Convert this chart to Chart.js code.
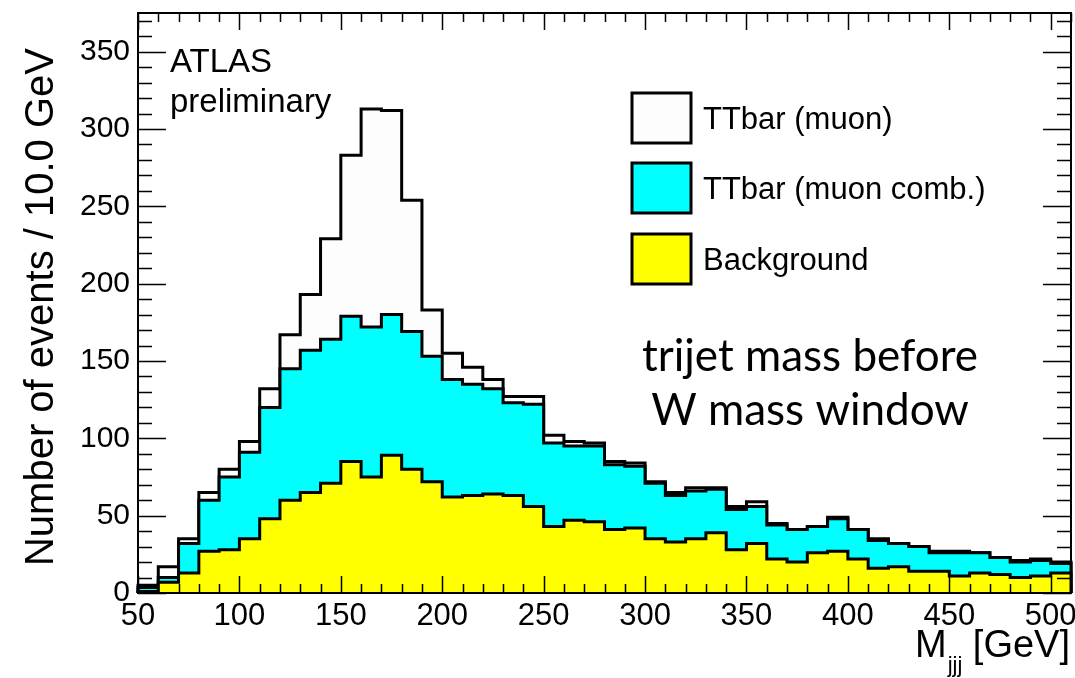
<!DOCTYPE html>
<html>
<head>
<meta charset="utf-8">
<script src="https://cdn.jsdelivr.net/npm/chart.js@4.4.0/dist/chart.umd.min.js"></script>
<style>
  html, body { margin: 0; padding: 0; background: #fff; }
  canvas { display: block; }
</style>
</head>
<body>
<canvas id="mjjjChart" width="1075" height="678"></canvas>
<script>
// lower edges of the 10 GeV bins
const binLow = [50, 60, 70, 80, 90, 100, 110, 120, 130, 140, 150, 160, 170, 180, 190,
  200, 210, 220, 230, 240, 250, 260, 270, 280, 290, 300, 310, 320, 330, 340,
  350, 360, 370, 380, 390, 400, 410, 420, 430, 440, 450, 460, 470, 480, 490, 500];
const binWidth = 10;

// events per bin
const ttbarMuon = [5, 17, 35, 65, 80, 98, 132, 167, 193, 229, 283, 313, 312, 254, 183,
  155, 146, 138, 127, 127, 102, 98, 97, 85, 84, 72, 65, 68, 68, 56,
  59, 45, 41, 43, 49, 41, 35, 32, 30, 27, 27, 26, 23, 21, 22, 20];
const ttbarMuonComb = [3.5, 10, 32, 60, 75, 91, 120, 145, 157, 164, 179, 172, 180, 169, 153,
  138, 135, 132, 123, 122, 97, 95, 95, 83, 82, 71, 63, 66, 67, 54,
  56, 44, 41, 43, 48, 41, 34, 32, 30, 26, 26, 26, 23, 20, 21, 19];
const background = [1, 7, 13, 27, 28, 35, 48, 60, 65, 71, 85, 75, 89, 80, 72,
  62, 63, 64, 63, 56, 43, 47, 46, 41, 42, 35, 33, 35, 39, 28,
  32, 22, 20, 26, 27, 22, 16, 17, 14, 14, 11, 13, 12, 10, 11, 13];

const seriesLabels = ['TTbar (muon)', 'TTbar (muon comb.)', 'Background'];
const xTickValues = [50, 100, 150, 200, 250, 300, 350, 400, 450, 500];
const yTickValues = [0, 50, 100, 150, 200, 250, 300, 350];

const helv = "'Liberation Sans', Arial, Helvetica, sans-serif";

// turn bin contents into a closed step outline
function histPoints(values) {
  const pts = [{ x: binLow[0], y: 0 }];
  values.forEach(function(v, i) {
    pts.push({ x: binLow[i], y: v });
    pts.push({ x: binLow[i] + binWidth, y: v });
  });
  pts.push({ x: binLow[binLow.length - 1] + binWidth, y: 0 });
  return pts;
}

function histDataset(label, values, color, order) {
  return {
    label: label,
    data: histPoints(values),
    backgroundColor: color,
    borderColor: '#000',
    borderWidth: 3,
    borderJoinStyle: 'miter',
    borderCapStyle: 'butt',
    fill: 'origin',
    tension: 0,
    pointRadius: 0,
    order: order,
    clip: 6
  };
}

// ticks inside the frame, frame, legend and labels
const decorations = {
  id: 'decorations',
  afterDraw: function(chart) {
    const ctx = chart.ctx;
    const a = chart.chartArea;
    const xs = chart.scales.x, ys = chart.scales.y;
    ctx.save();
    ctx.strokeStyle = '#000';
    ctx.lineWidth = 1.5;
    ctx.beginPath();
    for (let v = 50; v <= 510; v += 10) {
      const px = Math.round(xs.getPixelForValue(v)) + 0.5;
      const len = (v % 50 === 0) ? 17 : 9;
      ctx.moveTo(px, a.bottom); ctx.lineTo(px, a.bottom - len);
      ctx.moveTo(px, a.top); ctx.lineTo(px, a.top + len);
    }
    for (let v = 0; v <= 375; v += 10) {
      const py = Math.round(ys.getPixelForValue(v)) + 0.5;
      const len = (v % 50 === 0) ? 28 : 14;
      ctx.moveTo(a.left, py); ctx.lineTo(a.left + len, py);
      ctx.moveTo(a.right, py); ctx.lineTo(a.right - len, py);
    }
    ctx.stroke();

    ctx.lineWidth = 2;
    ctx.strokeRect(a.left, a.top, a.right - a.left, a.bottom - a.top);

    // legend
    const boxTops = [93, 163, 234];
    chart.data.datasets.forEach(function(ds, i) {
      ctx.fillStyle = ds.backgroundColor;
      ctx.fillRect(632, boxTops[i], 59, 50);
      ctx.lineWidth = 3;
      ctx.strokeRect(632, boxTops[i], 59, 50);
      ctx.fillStyle = '#000';
      ctx.font = '31px ' + helv;
      ctx.textAlign = 'left';
      ctx.textBaseline = 'alphabetic';
      ctx.fillText(seriesLabels[i], 703, boxTops[i] + 36);
    });

    ctx.fillStyle = '#000';
    ctx.font = '33px ' + helv;
    ctx.fillText('ATLAS', 170, 72);
    ctx.fillText('preliminary', 170, 112);

    ctx.font = '44px Lato, "Open Sans", sans-serif';
    ctx.textAlign = 'center';
    ctx.fillText('trijet mass before', 810, 371);
    ctx.fillText('W mass window', 810, 425);

    // x axis title with subscript
    ctx.textAlign = 'right';
    ctx.font = '38px ' + helv;
    const right = 1070;
    ctx.fillText('[GeV]', right, 657);
    const gevW = ctx.measureText('[GeV] ').width;
    ctx.font = '22px ' + helv;
    ctx.fillText('jjj', right - gevW, 672);
    const subW = ctx.measureText('jjj').width;
    ctx.font = '38px ' + helv;
    ctx.fillText('M', right - gevW - subW - 1, 657);

    // y axis title
    ctx.translate(53, 307);
    ctx.rotate(-Math.PI / 2);
    ctx.textAlign = 'center';
    ctx.font = '40px ' + helv;
    ctx.fillText('Number of events / 10.0 GeV', 0, 0);
    ctx.restore();
  }
};

function noEdgePadding(scale) {
  scale.paddingTop = 0;
  scale.paddingBottom = 0;
  scale.paddingLeft = 0;
  scale.paddingRight = 0;
}

const ctx = document.getElementById('mjjjChart').getContext('2d');
const mjjjChart = new Chart(ctx, {
  type: 'line',
  data: {
    datasets: [
      histDataset(seriesLabels[0], ttbarMuon, '#fdfdfd', 3),
      histDataset(seriesLabels[1], ttbarMuonComb, '#00ffff', 2),
      histDataset(seriesLabels[2], background, '#ffff00', 1)
    ]
  },
  options: {
    responsive: false,
    devicePixelRatio: 1,
    animation: false,
    layout: { padding: { top: 13, right: 4, left: 0, bottom: 0 } },
    plugins: { legend: { display: false }, tooltip: { enabled: false } },
    scales: {
      x: {
        type: 'linear',
        min: 50,
        max: 510,
        grid: { display: false, drawTicks: false },
        border: { display: false },
        afterBuildTicks: function(scale) {
          scale.ticks = xTickValues.map(function(v) { return { value: v }; });
        },
        afterFit: function(scale) { scale.height = 85; noEdgePadding(scale); },
        ticks: {
          autoSkip: false,
          maxRotation: 0,
          padding: 5,
          color: '#000',
          font: { family: helv, size: 31 }
        }
      },
      y: {
        min: 0,
        max: 375,
        grid: { display: false, drawTicks: false },
        border: { display: false },
        afterBuildTicks: function(scale) {
          scale.ticks = yTickValues.map(function(v) { return { value: v }; });
        },
        afterFit: function(scale) { scale.width = 138; noEdgePadding(scale); },
        ticks: {
          padding: 8,
          color: '#000',
          font: { family: helv, size: 30 }
        }
      }
    }
  },
  plugins: [decorations]
});
</script>
</body>
</html>
